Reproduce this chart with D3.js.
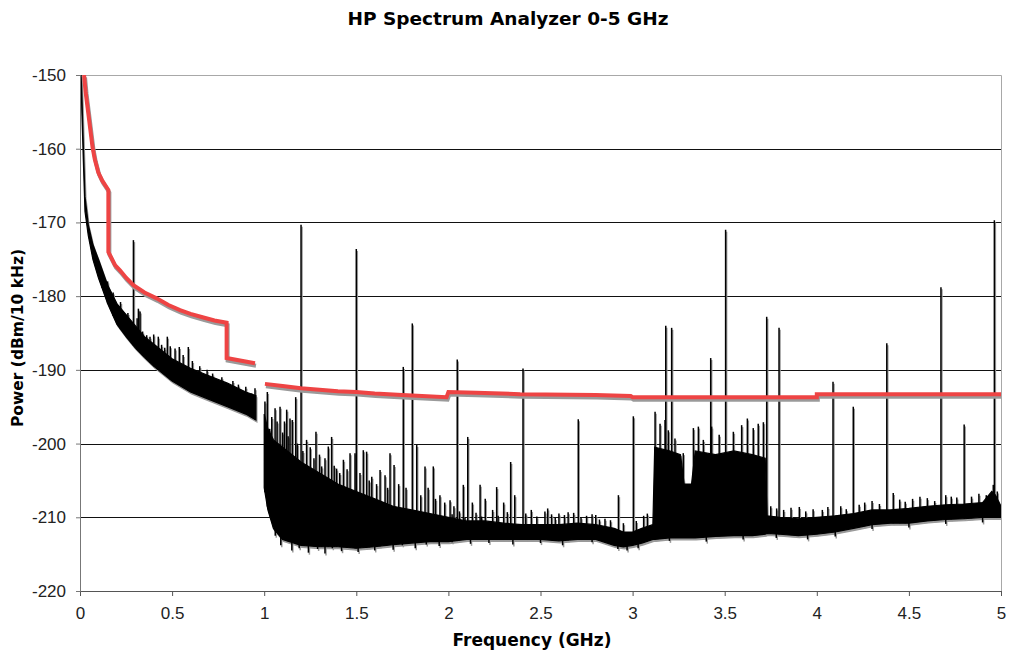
<!DOCTYPE html>
<html>
<head>
<meta charset="utf-8">
<script src="https://cdn.jsdelivr.net/npm/d3@7"></script>
<style>
  body { margin: 0; background: #fff; }
  svg { font-family: "DejaVu Sans", Verdana, sans-serif; }
</style>
</head>
<body>
<div id="chart"></div>
<script>
// values
var freqTicks = [0, 0.5, 1, 1.5, 2, 2.5, 3, 3.5, 4, 4.5, 5];
var powerTicks = [-150, -160, -170, -180, -190, -200, -210, -220];

// noise floor below 1 GHz (dense band: top / bottom)
var lowFreq   = [0.006, 0.01, 0.018, 0.027, 0.045, 0.07, 0.1, 0.15, 0.2, 0.25, 0.3, 0.35, 0.4, 0.5, 0.6, 0.7, 0.8, 0.9, 0.955];
var lowTop    = [-150, -152.5, -159.5, -166.5, -170.3, -173, -175, -178.5, -181, -182.5, -184, -185.5, -186.5, -188.5, -189.8, -190.8, -191.8, -193, -193.5];
var lowBottom = [-151, -155, -161.5, -168.5, -171.8, -175, -177.5, -181, -183.8, -185.5, -187, -188.3, -189.5, -191.5, -193, -194, -195, -196, -196.8];

// noise floor 1-5 GHz
var highFreq   = [1.0, 1.02, 1.05, 1.1, 1.2, 1.3, 1.4, 1.5, 1.6, 1.7, 1.8, 1.9, 2.0, 2.1, 2.2, 2.3, 2.4, 2.5, 2.6, 2.7, 2.8, 2.9, 2.95, 3.0, 3.05, 3.11, 3.12, 3.2, 3.26, 3.28, 3.32, 3.34, 3.45, 3.55, 3.65, 3.72, 3.73, 3.8, 3.9, 4.0, 4.1, 4.2, 4.3, 4.4, 4.5, 4.6, 4.7, 4.8, 4.9, 4.95, 4.97, 5.0];
var highTop    = [-196, -198, -199.5, -200.5, -202.5, -204, -205.5, -206.5, -207.5, -208.5, -209, -209.5, -210, -210.5, -210.5, -210.8, -211, -211, -211, -210.8, -211, -211.5, -212, -212, -211.5, -211, -200.5, -201, -201.5, -205.5, -205.5, -201, -201.5, -201, -201.5, -202, -209.8, -210, -210.2, -210, -209.8, -209.5, -209, -209, -208.8, -208.5, -208.3, -208.2, -208, -206.5, -207, -208.5];
var highBottom = [-206, -209, -211.5, -213, -213.8, -214, -214, -214.2, -214, -213.7, -213.5, -213.3, -213.3, -213, -213, -213, -213, -213, -213.2, -213, -213, -213.8, -214, -213.8, -213.5, -213, -213, -212.8, -212.8, -212.8, -212.8, -212.8, -212.6, -212.5, -212.5, -212.3, -212.2, -212.3, -212.5, -212.3, -212, -211.5, -211, -210.8, -210.8, -210.5, -210.3, -210.2, -210, -210, -210, -210];

// spurs and noise peaks (frequency, peak power)
var spurFreq = [0.29, 0.317, 0.326, 0.362, 0.425, 0.443, 0.474, 0.516, 0.539, 0.588, 0.742, 0.796, 0.932, 0.95,
  0.12, 0.15, 0.18, 0.22, 0.26, 0.31, 0.34, 0.38, 0.4, 0.46, 0.49, 0.56, 0.61, 0.65, 0.69, 0.72, 0.77, 0.83, 0.86, 0.9,
  1.2, 1.5, 1.755, 1.804, 2.048, 2.405, 2.705, 2.923, 3.004, 3.18, 3.212, 3.424, 3.505, 3.728, 3.795, 4.088, 4.198, 4.38, 4.674, 4.8, 4.964,
  1.004, 1.017, 1.041, 1.059, 1.086, 1.122, 1.14, 1.153, 1.171, 1.281, 1.312, 1.348, 1.366, 1.393, 1.43, 1.466, 1.493, 1.538, 1.556, 1.584, 1.629, 1.656, 1.683, 1.705, 1.828, 1.873, 1.918, 1.954, 2.009, 2.081, 2.105, 2.172, 2.262, 2.338, 2.524, 2.539, 2.8,
  1.03, 1.07, 1.1, 1.11, 1.13, 1.18, 1.21, 1.23, 1.25, 1.27, 1.3, 1.33, 1.38, 1.41, 1.45, 1.52, 1.57, 1.61, 1.67, 1.73, 1.77, 1.85, 1.89, 1.93, 1.98, 2.03, 2.13, 2.2, 2.3, 2.36, 2.45, 2.6, 2.65, 2.75, 2.85, 3.08,
  2.02, 2.06, 2.09, 2.15, 2.18, 2.24, 2.27, 2.32, 2.42, 2.48, 2.56, 2.58, 2.63, 2.68, 2.72, 2.78, 2.82, 2.88, 2.95, 3.02, 3.06,
  3.122, 3.149, 3.176, 3.194, 3.23, 3.275, 3.33, 3.357, 3.384, 3.429, 3.47, 3.547, 3.592, 3.623, 3.655, 3.682, 3.71,
  3.75, 3.782, 3.82, 3.86, 3.905, 3.94, 3.98, 4.03, 4.06, 4.13, 4.16, 4.23, 4.26, 4.3, 4.34, 4.415, 4.45, 4.48, 4.52, 4.56, 4.6, 4.64, 4.7, 4.73, 4.76, 4.84, 4.88, 4.92, 4.958, 4.98];
var spurPeak = [-172.4, -181.7, -182.1, -185.3, -185.5, -186.6, -185.5, -187.1, -186.9, -186.9, -191.8, -192.1, -193.2, -192.5,
  -176.5, -178, -179.5, -180.8, -182.3, -183.0, -184.8, -185.5, -185.2, -187, -186.8, -188, -188.8, -189.5, -190, -190.5, -191, -191.5, -192, -192.3,
  -170.3, -173.6, -189.6, -183.7, -188.6, -189.8, -196.7, -207, -196.3, -184.0, -184.3, -188.4, -171.0, -182.8, -184.3, -191.6, -195.0, -186.4, -178.8, -197.4, -169.7,
  -194.3, -193.0, -196.4, -195.2, -195.0, -195.4, -196.6, -196.8, -193.7, -198.4, -203.1, -200.4, -199.1, -203.4, -202.2, -201.3, -201.3, -200.9, -201.1, -204.5, -203.6, -204.3, -201.3, -202.9, -200.2, -203.1, -203.1, -207.0, -207.7, -205.6, -199.1, -205.6, -205.9, -202.5, -209.2, -208.8, -209.7,
  -198, -197, -198.5, -197, -199, -200, -201, -199.5, -200.5, -202, -201.5, -202, -203, -204, -203.5, -204, -205, -205.5, -206, -205.5, -206, -207, -206, -207.5, -208, -208.5, -208, -207.5, -208, -207, -209, -209.5, -209.3, -209.8, -210.2, -209.5,
  -209.6, -209.2, -210.0, -209.4, -209.9, -209.0, -209.8, -209.3, -209.5, -209.9, -209.6, -210.1, -209.7, -209.4, -210.0, -209.6, -210.3, -210.4, -210.8, -210.5, -209.8,
  -195.7, -197.3, -196.8, -198.2, -199.3, -201.3, -197.9, -197.7, -199.5, -197.7, -198.8, -198.4, -197.5, -196.6, -197.9, -197.3, -197.1,
  -208.5, -208.8, -209.0, -208.7, -208.6, -209.2, -208.9, -209.0, -208.6, -208.5, -208.9, -208.3, -208.0, -207.8, -208.2, -206.7, -207.6, -207.9, -207.5, -207.2, -207.4, -207.8, -207.0, -207.2, -207.3, -207.2, -206.8, -207.0, -205.6, -206.5];

// downward noise excursions along the lower edge (frequency, minimum power)
var dipFreq = [1.06, 1.09, 1.15, 1.19, 1.24, 1.29, 1.33, 1.37, 1.42, 1.47, 1.51, 1.55, 1.6, 1.65, 1.7, 1.75, 1.82, 1.88, 1.95, 2.02, 2.12, 2.22, 2.35, 2.5, 2.62, 2.78, 2.92, 2.97, 3.03, 3.2, 3.4, 3.6, 3.78, 3.95, 4.1, 4.3, 4.5, 4.7, 4.9];
var dipLow  = [-212.5, -213.8, -214.5, -214.2, -214.8, -214.3, -214.9, -214.2, -214.6, -214.0, -214.7, -214.1, -214.5, -213.9, -214.4, -213.8, -214.2, -213.7, -213.9, -213.4, -213.6, -213.5, -213.7, -213.5, -213.8, -213.4, -214.3, -214.5, -214.2, -213.2, -213.3, -213.0, -212.8, -213.0, -212.6, -211.6, -211.4, -210.9, -210.7];

// analyzer limit line (red), two pieces
var limitFreqA = [0.022, 0.03, 0.045, 0.058, 0.068, 0.08, 0.099, 0.12, 0.154, 0.154, 0.19, 0.217, 0.25, 0.29, 0.35, 0.416, 0.48, 0.543, 0.6, 0.67, 0.73, 0.796, 0.796, 0.95];
var limitValA  = [-150, -152.2, -155.2, -157.8, -159.8, -161.4, -163.2, -164.3, -165.6, -174, -175.8, -176.5, -177.5, -178.5, -179.5, -180.3, -181.2, -181.9, -182.4, -182.9, -183.3, -183.6, -188.4, -189.1];
var limitFreqB = [1.004, 1.1, 1.2, 1.3, 1.4, 1.5, 1.6, 1.75, 1.99, 2.0, 2.15, 2.39, 2.8, 2.99, 3.0, 4.0, 4.0, 5.0];
var limitValB  = [-191.9, -192.2, -192.5, -192.7, -192.9, -193.0, -193.2, -193.4, -193.7, -193.0, -193.1, -193.3, -193.4, -193.55, -193.7, -193.7, -193.3, -193.3];

function spectrum() {

    var width = 1013, height = 653,
        mLeft = 80, mRight = 1001, mTop = 75, mBottom = 591;

    var svg = d3.select("#chart").append("svg")
        .attr("width", width)
        .attr("height", height);

    var x = d3.scaleLinear().domain([0, 5]).range([mLeft, mRight]);
    var y = d3.scaleLinear().domain([-220, -150]).range([mBottom, mTop]);

    // gridlines
    svg.append("g")
        .selectAll("line")
        .data(powerTicks.filter(function (d) { return d > -220 && d < -150; }))
        .enter().append("line")
        .attr("x1", mLeft).attr("x2", mRight)
        .attr("y1", function (d) { return Math.round(y(d)) + 0.5; })
        .attr("y2", function (d) { return Math.round(y(d)) + 0.5; })
        .style("stroke", "#111")
        .style("stroke-width", 1);

    // plot frame (top, right)
    svg.append("path")
        .attr("d", "M" + mLeft + "," + (mTop + 0.5) + "H" + (mRight + 0.5) + "V" + mBottom)
        .style("fill", "none")
        .style("stroke", "#a8a8a8");

    svg.append("clipPath").attr("id", "plotclip")
        .append("rect")
        .attr("x", mLeft).attr("y", mTop)
        .attr("width", mRight - mLeft).attr("height", mBottom - mTop);

    var plot = svg.append("g").attr("clip-path", "url(#plotclip)");

    // value of a band edge at f, only used to anchor spur lines
    function at(f, fs, vs) {
        var i = d3.bisectLeft(fs, f);
        if (i <= 0) return vs[0];
        if (i >= fs.length) return vs[vs.length - 1];
        var t = (f - fs[i - 1]) / (fs[i] - fs[i - 1]);
        return vs[i - 1] + t * (vs[i] - vs[i - 1]);
    }

    var bands = [
        { f: lowFreq, t: lowTop, b: lowBottom },
        { f: highFreq, t: highTop, b: highBottom }
    ];

    var area = d3.area()
        .x(function (d) { return x(d[0]); })
        .y0(function (d) { return y(d[2]); })
        .y1(function (d) { return y(d[1]); });

    function drawTrace(g, color) {
        bands.forEach(function (band) {
            var rows = band.f.map(function (f, i) { return [f, band.t[i], band.b[i]]; });
            g.append("path")
                .datum(rows)
                .attr("d", area)
                .style("fill", color)
                .style("stroke", color)
                .style("stroke-width", 1.2);
        });
        g.selectAll(".spur")
            .data(spurFreq.map(function (f, i) { return [f, spurPeak[i]]; }))
            .enter().append("line")
            .attr("class", "spur")
            .attr("x1", function (d) { return x(d[0]); })
            .attr("x2", function (d) { return x(d[0]); })
            .attr("y1", function (d) { return y(d[1]); })
            .attr("y2", function (d) {
                var band = d[0] < 0.98 ? bands[0] : bands[1];
                return y(at(d[0], band.f, band.b));
            })
            .style("stroke", color)
            .style("stroke-width", 1.5);
        g.selectAll(".dip")
            .data(dipFreq.map(function (f, i) { return [f, dipLow[i]]; }))
            .enter().append("line")
            .attr("class", "dip")
            .attr("x1", function (d) { return x(d[0]); })
            .attr("x2", function (d) { return x(d[0]); })
            .attr("y1", function (d) { return y(d[1]); })
            .attr("y2", function (d) { return y(at(d[0], highFreq, highTop)); })
            .style("stroke", color)
            .style("stroke-width", 1.5);
    }

    // grey shadow first, then black trace
    drawTrace(plot.append("g").attr("transform", "translate(1,2)"), "#9a9a9a");
    drawTrace(plot.append("g"), "#000");

    // limit line with shadow
    var line = d3.line()
        .x(function (d) { return x(d[0]); })
        .y(function (d) { return y(d[1]); });

    [[limitFreqA, limitValA], [limitFreqB, limitValB]].forEach(function (s) {
        var rows = s[0].map(function (f, i) { return [f, s[1][i]]; });
        plot.append("path").datum(rows)
            .attr("d", line)
            .attr("transform", "translate(1,2.5)")
            .style("fill", "none")
            .style("stroke", "#9a9a9a")
            .style("stroke-width", 4);
        plot.append("path").datum(rows)
            .attr("d", line)
            .style("fill", "none")
            .style("stroke", "#ee4444")
            .style("stroke-width", 4);
    });

    // axes
    var xAxis = svg.append("g")
        .attr("transform", "translate(0," + mBottom + ")")
        .call(d3.axisBottom(x).tickValues(freqTicks).tickSize(5).tickPadding(11)
            .tickFormat(function (d) { return String(d); }));
    xAxis.select(".domain").style("stroke", "#555");
    xAxis.selectAll(".tick line").style("stroke", "#555");
    xAxis.selectAll("text").style("font-size", "17px").style("fill", "#222");

    var yAxis = svg.append("g")
        .attr("transform", "translate(" + mLeft + ",0)")
        .call(d3.axisLeft(y).tickValues(powerTicks).tickSize(4).tickPadding(10)
            .tickFormat(function (d) { return String(d); }));
    yAxis.select(".domain").style("stroke", "#777");
    yAxis.selectAll(".tick line").style("stroke", "#777");
    yAxis.selectAll("text").style("font-size", "17px").style("fill", "#222");

    // titles
    svg.append("text")
        .attr("x", 508).attr("y", 25)
        .attr("text-anchor", "middle")
        .style("font-size", "18.5px").style("font-weight", "bold")
        .text("HP Spectrum Analyzer 0-5 GHz");

    svg.append("text")
        .attr("x", 532).attr("y", 646)
        .attr("text-anchor", "middle")
        .style("font-size", "17px").style("font-weight", "bold")
        .text("Frequency (GHz)");

    svg.append("text")
        .attr("transform", "translate(23,338) rotate(-90)")
        .attr("text-anchor", "middle")
        .style("font-size", "15.5px").style("font-weight", "bold")
        .text("Power (dBm/10 kHz)");
}

spectrum();
</script>
</body>
</html>
